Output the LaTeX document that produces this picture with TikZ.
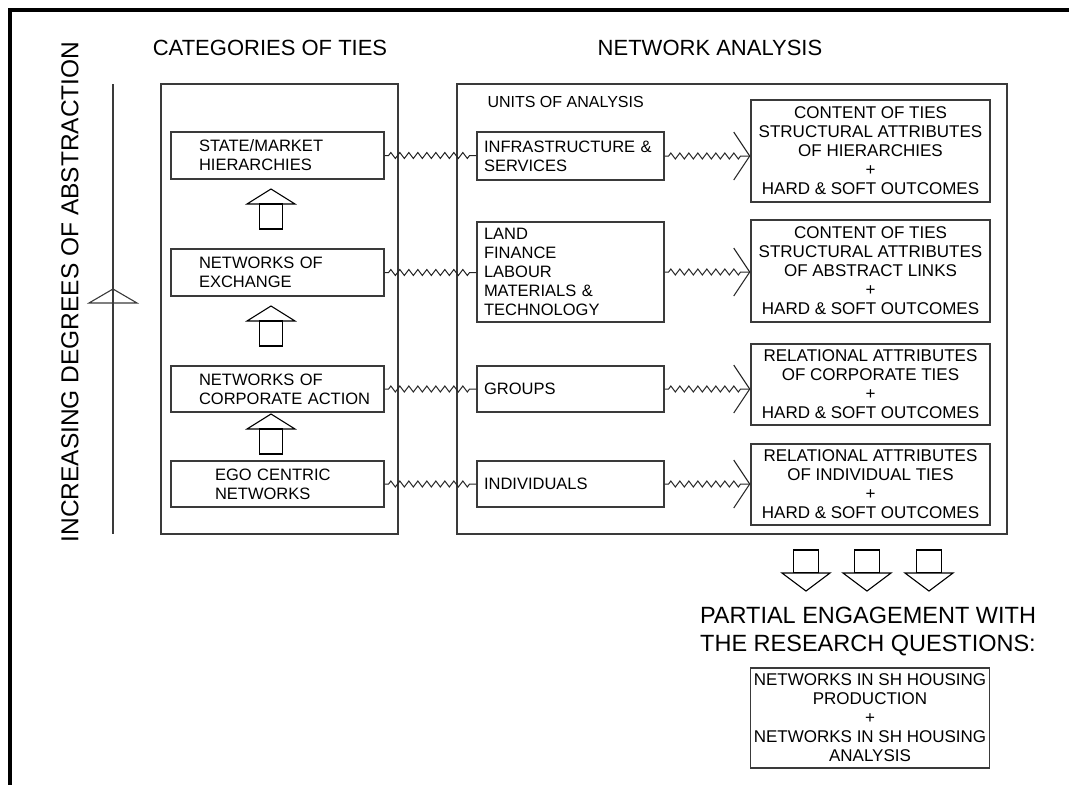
\documentclass[tikz,border=0pt]{standalone}
\usepackage{fontspec}
\setmainfont{Liberation Sans}
\usetikzlibrary{arrows.meta,positioning,decorations.pathmorphing}

\definecolor{tieline}{HTML}{3A3A3A}

\tikzset{
  panel/.style={draw=tieline, line width=1.2pt, inner sep=0pt},
  headline/.style={font=\fontsize{22}{26}\selectfont, inner sep=0pt},
  catbox/.style={draw=tieline, line width=1.2pt, minimum width=213pt, minimum height=47pt,
    text width=199pt, inner xsep=7pt, align=left, font=\fontsize{16.5}{19}\selectfont,
    execute at begin node={\leftskip=#1\relax}},
  catbox/.default=21pt,
  unitbox/.style={draw=tieline, line width=1.2pt, minimum width=187pt, text width=173pt,
    inner xsep=7pt, align=left, font=\fontsize{16.5}{19}\selectfont},
  outbox/.style={draw=tieline, line width=1.2pt, minimum width=239pt, align=center,
    font=\fontsize{17}{19}\selectfont},
  tie/.style={draw=black!85, line width=1pt, decorate,
    decoration={zigzag, segment length=9pt, amplitude=3pt, pre length=4pt, post length=4pt}},
  tiearrow/.style={tie, decoration={post length=6pt},
    -{Straight Barb[length=16pt, width=48pt, line width=1.1pt]}},
  axisline/.style={draw=tieline, line width=1.1pt},
  hollow/.style={draw=black, line width=1.1pt, fill=white},
  blockup/.pic={
    \draw[hollow] (0,0) -- (24,15) -- (-24,15) -- cycle;
    \draw[hollow] (-11.5,15) rectangle (11.5,40);
  },
  blockdown/.pic={
    \draw[hollow] (-12.5,0) rectangle (12.5,23);
    \draw[hollow] (-24,23) -- (24,23) -- (0,41) -- cycle;
  }
}

\begin{document}
\begin{tikzpicture}[x=1pt, y=-1pt]
\useasboundingbox (0,0) rectangle (1069,785);

% outer frame (top and left only)
\draw[line width=4pt] (10,785) -- (10,10) -- (1069,10);

% abstraction axis
\node[font=\fontsize{24.5}{28}\selectfont, rotate=90] (abstraction) at (70,292)
  {INCREASING DEGREES OF ABSTRACTION};
\draw[axisline] (113,84) -- (113,534);
\draw[axisline] (113,289) -- (137,303) -- (89,303) -- cycle;

% the two panels
\node[headline] (cattitle) at (270,48) {CATEGORIES OF TIES};
\node[headline] (nettitle) at (710,48) {NETWORK ANALYSIS};
\node[panel, minimum width=237pt, minimum height=450pt] (cats) at (279.5,309) {};
\node[panel, minimum width=550pt, minimum height=450pt] (analysis) at (732,309) {};
\node[anchor=west, font=\fontsize{16}{19}\selectfont] (units) at (484,102) {UNITS OF ANALYSIS};

% categories of ties
\node[catbox] (state) at (277.5,155.5) {STATE/MARKET\\HIERARCHIES};
\node[catbox] (exchange) at (277.5,272.5) {NETWORKS OF\\EXCHANGE};
\node[catbox, minimum height=46pt] (corporate) at (277.5,389) {NETWORKS OF\\CORPORATE ACTION};
\node[catbox=37pt, minimum height=46pt] (ego) at (277.5,484) {EGO CENTRIC\\NETWORKS};

\pic at (271,189) {blockup};
\pic at (271,306) {blockup};
\pic at (271,414) {blockup};

% units of analysis
\node[unitbox, minimum height=48pt] (infra) at (570.5,156) {INFRASTRUCTURE \&\\SERVICES};
\node[unitbox, minimum height=100pt] (land) at (570.5,272)
  {LAND\\FINANCE\\LABOUR\\MATERIALS \&\\TECHNOLOGY};
\node[unitbox, minimum height=46pt] (groups) at (570.5,389) {GROUPS};
\node[unitbox, minimum height=46pt] (indiv) at (570.5,484) {INDIVIDUALS};

% outcomes
\node[outbox, minimum height=102pt] (hier) at (870.5,151)
  {CONTENT OF TIES\\STRUCTURAL ATTRIBUTES\\OF HIERARCHIES\\+\\HARD \& SOFT OUTCOMES};
\node[outbox, minimum height=102pt] (links) at (870.5,271)
  {CONTENT OF TIES\\STRUCTURAL ATTRIBUTES\\OF ABSTRACT LINKS\\+\\HARD \& SOFT OUTCOMES};
\node[outbox, minimum height=81pt] (corpties) at (870.5,384.5)
  {RELATIONAL ATTRIBUTES\\OF CORPORATE TIES\\+\\HARD \& SOFT OUTCOMES};
\node[outbox, minimum height=81pt] (indties) at (870.5,484.5)
  {RELATIONAL ATTRIBUTES\\OF INDIVIDUAL TIES\\+\\HARD \& SOFT OUTCOMES};

% ties between the columns
\draw[tie] (state.east) -- (state.east -| infra.west);
\draw[tie] (exchange.east) -- (exchange.east -| land.west);
\draw[tie] (corporate.east) -- (corporate.east -| groups.west);
\draw[tie] (ego.east) -- (ego.east -| indiv.west);
\draw[tiearrow] (infra.east) -- (infra.east -| hier.west);
\draw[tiearrow] (land.east) -- (land.east -| links.west);
\draw[tiearrow] (groups.east) -- (groups.east -| corpties.west);
\draw[tiearrow] (indiv.east) -- (indiv.east -| indties.west);

% research questions
\pic at (806,550) {blockdown};
\pic at (867,550) {blockdown};
\pic at (929,550) {blockdown};
\node[font=\fontsize{23.5}{28}\selectfont, align=center] (partial) at (868,632)
  {PARTIAL ENGAGEMENT WITH\\THE RESEARCH QUESTIONS:};
\node[outbox, minimum width=238pt, minimum height=100pt] (questions) at (870,718)
  {NETWORKS IN SH HOUSING\\PRODUCTION\\+\\NETWORKS IN SH HOUSING\\ANALYSIS};
\end{tikzpicture}
\end{document}
